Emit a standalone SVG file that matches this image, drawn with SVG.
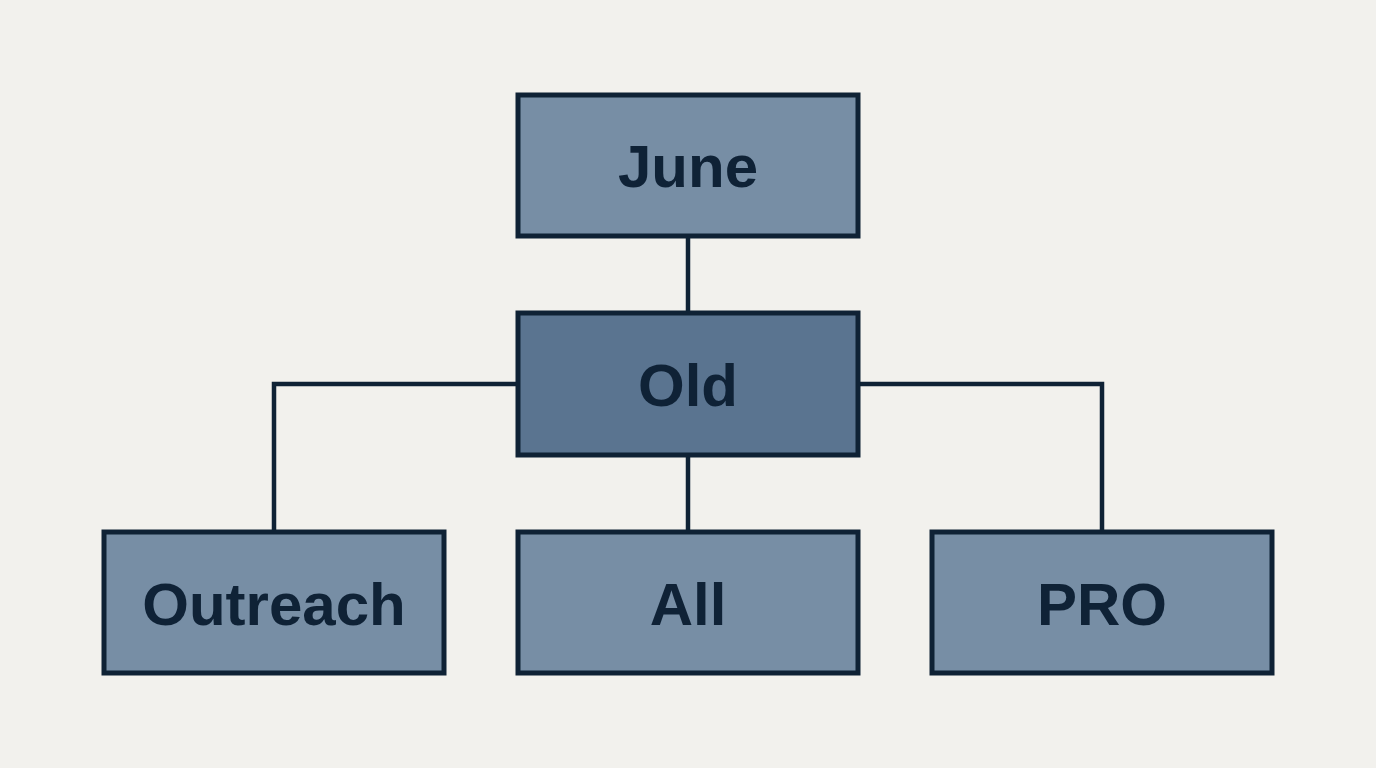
<svg xmlns="http://www.w3.org/2000/svg" width="1376" height="768" viewBox="0 0 1376 768">
<style>
.box{fill:#778ea5;stroke:#0f2235;stroke-width:5}
.dark{fill:#5a7490}
.lbl{font-family:"Liberation Sans",Arial,sans-serif;font-weight:bold;font-size:60px;fill:#0f2236;text-anchor:middle}
.conn{fill:none;stroke:#0f2235;stroke-width:4.5}
</style>
<rect width="1376" height="768" fill="#f2f1ed"/>
<g id="connectors">
<line class="conn" x1="688" y1="236" x2="688" y2="313"/>
<line class="conn" x1="688" y1="455" x2="688" y2="532"/>
<polyline class="conn" points="518,384 274,384 274,532"/>
<polyline class="conn" points="858,384 1102,384 1102,532"/>
</g>
<g id="june">
<rect class="box" x="518" y="95" width="340" height="141"/>
<text class="lbl" x="688" y="187">June</text>
</g>
<g id="old">
<rect class="box dark" x="518" y="313" width="340" height="142"/>
<text class="lbl" x="688" y="406">Old</text>
</g>
<g id="outreach">
<rect class="box" x="104" y="532" width="340" height="141"/>
<text class="lbl" x="274" y="625">Outreach</text>
</g>
<g id="all">
<rect class="box" x="518" y="532" width="340" height="141"/>
<text class="lbl" x="688" y="625">All</text>
</g>
<g id="pro">
<rect class="box" x="932" y="532" width="340" height="141"/>
<text class="lbl" x="1102" y="625">PRO</text>
</g>
</svg>
